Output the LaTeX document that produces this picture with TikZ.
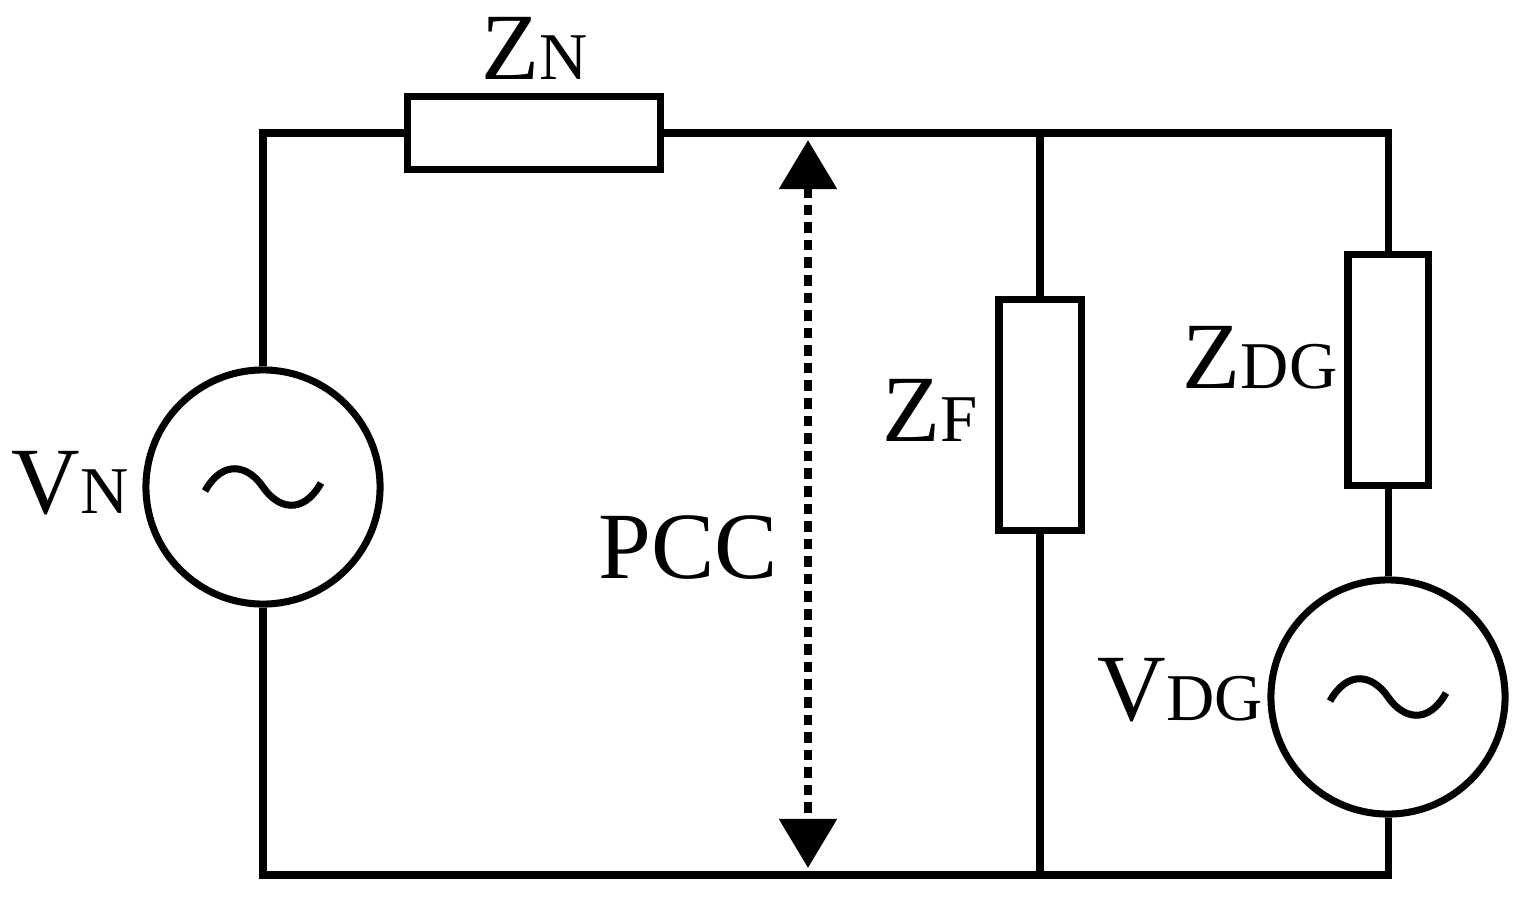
\documentclass[tikz,border=0pt]{standalone}
\usepackage{fontspec}
\setmainfont{Liberation Serif}
\usetikzlibrary{arrows.meta}
\begin{document}
\begin{tikzpicture}[x=0.01cm,y=-0.01cm,line width=2pt,
  src/.style={draw,circle,minimum size=2.34cm,inner sep=0pt},
  lbl/.style={font=\fontsize{27}{27}\selectfont,inner sep=0pt}]
\newcommand{\sm}[1]{{\fontsize{19}{19}\selectfont #1}}
\useasboundingbox (0,0) rectangle (1524,897);
\coordinate (tl) at (263,133); \coordinate (tr) at (1388,133);
\coordinate (bl) at (263,875); \coordinate (br) at (1388,875);
\coordinate (tf) at (1040,133); \coordinate (bf) at (1040,875);
\coordinate (ta) at (808,140); \coordinate (ba) at (808,868);
\node[draw,minimum width=2.52cm,minimum height=0.73cm,inner sep=0pt] (zn) at (534,133) {};
\node[draw,minimum width=0.82cm,minimum height=2.30cm,inner sep=0pt] (zf) at (1040,415) {};
\node[draw,minimum width=0.80cm,minimum height=2.30cm,inner sep=0pt] (zdg) at (1388,370) {};
\node[src] (vn) at (263,487) {};
\node[src] (vdg) at (1388,697) {};
\draw (vn.north) -- (tl) -- (zn.west);
\draw (zn.east) -- (tr) -- (zdg.north);
\draw (zdg.south) -- (vdg.north);
\draw (vdg.south) -- (br) -- (bl) -- (vn.south);
\draw (tf) -- (zf.north); \draw (zf.south) -- (bf);
\foreach \c in {vn,vdg}{
  \draw ([shift={(-58,4)}]\c.center) .. controls ([shift={(-40,-28)}]\c.center) and ([shift={(-15,-22)}]\c.center) .. (\c.center)
        .. controls ([shift={(15,22)}]\c.center) and ([shift={(40,28)}]\c.center) .. ([shift={(58,-4)}]\c.center);}
\draw[line width=2.5pt,dash pattern=on 3pt off 2pt,{Triangle[width=16pt,length=14pt]}-{Triangle[width=16pt,length=14pt]}] (ta) -- (ba);
\node[lbl] (lzn) at (535,48) {Z\sm{N}};
\node[lbl] (lvn) at (70,483) {V\sm{N}};
\node[lbl] (lpcc) at (688,548) {PCC};
\node[lbl] (lzf) at (930,410) {Z\sm{F}};
\node[lbl] (lzdg) at (1260,358) {Z\sm{DG}};
\node[lbl] (lvdg) at (1180,690) {V\sm{DG}};
\end{tikzpicture}
\end{document}
